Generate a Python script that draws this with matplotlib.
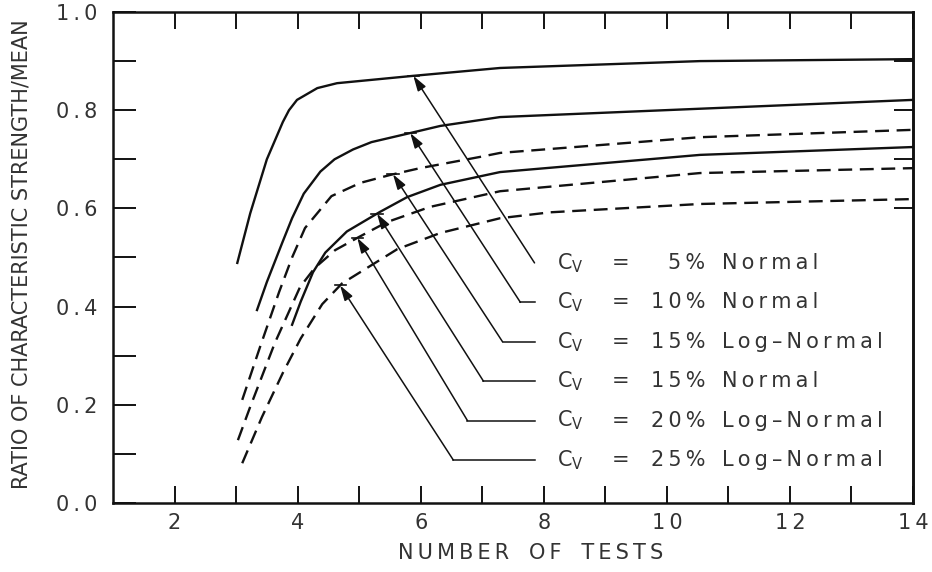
import numpy as np
import matplotlib
matplotlib.use("Agg")
import matplotlib.pyplot as plt

plt.rcParams["font.family"] = ["DejaVu Sans"]
plt.rcParams["mathtext.default"] = "regular"
plt.rcParams["lines.scale_dashes"] = False

# ratio of characteristic strength to mean vs number of tests
n_5n = [3.02, 3.23, 3.50, 3.76, 3.86, 3.99, 4.32, 4.64, 5.88, 7.29, 10.54, 14.0]
r_5n = [0.489, 0.590, 0.700, 0.776, 0.800, 0.821, 0.845, 0.855, 0.870, 0.886, 0.900, 0.904]

n_10n = [3.34, 3.50, 3.75, 3.91, 4.10, 4.37, 4.60, 4.90, 5.20, 5.78, 6.32, 7.29, 10.54, 14.0]
r_10n = [0.393, 0.450, 0.530, 0.580, 0.630, 0.675, 0.700, 0.720, 0.735, 0.752, 0.768, 0.786, 0.803, 0.821]

n_15ln = [3.10, 3.39, 3.70, 3.91, 4.12, 4.55, 5.02, 5.50, 5.99, 6.97, 7.29, 10.54, 14.0]
r_15ln = [0.210, 0.318, 0.430, 0.500, 0.560, 0.625, 0.652, 0.668, 0.682, 0.705, 0.713, 0.745, 0.760]

n_15n = [3.91, 4.05, 4.25, 4.45, 4.80, 5.34, 5.78, 6.32, 7.29, 10.54, 14.0]
r_15n = [0.363, 0.410, 0.470, 0.510, 0.553, 0.593, 0.623, 0.648, 0.674, 0.709, 0.725]

n_20ln = [3.03, 3.23, 3.63, 4.04, 4.28, 4.61, 5.00, 5.45, 6.15, 7.29, 10.54, 14.0]
r_20ln = [0.128, 0.196, 0.326, 0.440, 0.479, 0.515, 0.542, 0.572, 0.603, 0.635, 0.672, 0.682]

n_25ln = [3.10, 3.42, 3.76, 4.05, 4.40, 4.72, 5.26, 5.62, 6.32, 7.29, 8.10, 10.54, 14.0]
r_25ln = [0.081, 0.175, 0.265, 0.335, 0.405, 0.447, 0.489, 0.517, 0.550, 0.580, 0.592, 0.609, 0.619]

cv_pct = ["5%", "10%", "15%", "15%", "20%", "25%"]
dist = ["Normal", "Normal", "Log\u2013Normal", "Normal", "Log\u2013Normal", "Log\u2013Normal"]
dashed = [False, False, True, False, True, True]

# where each leader arrow meets its curve, and where it bends to horizontal
tip_n = [5.88, 5.83, 5.55, 5.29, 4.97, 4.69]
bend_n = [7.85, 7.62, 7.33, 7.02, 6.76, 6.53]

series = [(n_5n, r_5n), (n_10n, r_10n), (n_15ln, r_15ln),
          (n_15n, r_15n), (n_20ln, r_20ln), (n_25ln, r_25ln)]

ink = "#111111"
txt = "#333333"


def spaced(s):
    return "\u2009".join(s)


fig = plt.figure(figsize=(9.32, 5.72), dpi=100)
ax = fig.add_axes([113 / 932, 1 - 503 / 572, 800 / 932, 491 / 572])

for (n, r), dsh in zip(series, dashed):
    if dsh:
        ax.plot(n, r, color=ink, lw=1.7, dashes=(10, 5.5), solid_capstyle="butt")
    else:
        ax.plot(n, r, color=ink, lw=1.7, solid_joinstyle="round")

# leader lines with labels
row0, row_step = 0.489, 0.0803
leader_end = 7.85
cv_x, eq_x, pct_x, name_x = 8.22, 9.24, 10.63, 10.90
for i, ((n, r), tx, bx) in enumerate(zip(series, tip_n, bend_n)):
    ty = float(np.interp(tx, n, r))
    ry = row0 - i * row_step
    ax.plot([bx, leader_end], [ry, ry], color=ink, lw=1.1)
    ax.annotate("", xy=(tx, ty), xytext=(bx, ry),
                arrowprops=dict(arrowstyle="-|>,head_length=0.65,head_width=0.2",
                                mutation_scale=14, color=ink, lw=1.1,
                                shrinkA=0, shrinkB=0))
    ax.plot([tx - 0.09, tx + 0.09], [ty, ty], color=ink, lw=1.2)
    ax.text(cv_x, ry, "C$_V$", fontsize=15, color=txt, va="center", ha="left")
    ax.text(eq_x, ry, "=", fontsize=15, color=txt, va="center", ha="center")
    ax.text(pct_x, ry, spaced(cv_pct[i]), fontsize=15, color=txt, va="center", ha="right")
    ax.text(name_x, ry, spaced(dist[i]), fontsize=15, color=txt, va="center", ha="left")

ax.set_xlim(1, 14)
ax.set_ylim(0, 1.0)

xt = np.arange(2, 15, 2)
ax.set_xticks(xt)
ax.set_xticks(np.arange(3, 14, 2), minor=True)
ax.set_xticklabels([spaced(str(v)) for v in xt])
yt = np.arange(0, 1.01, 0.2)
ax.set_yticks(yt)
ax.set_yticks(np.arange(0.1, 1.0, 0.2), minor=True)
ax.set_yticklabels([spaced(f"{v:.1f}") for v in yt])

ax.tick_params(axis="x", which="both", direction="in", length=12, width=1.3,
               top=True, labelsize=15, labelcolor=txt, pad=7)
ax.tick_params(axis="y", which="both", direction="in", length=16.5, width=1.3,
               right=False, labelsize=15, labelcolor=txt, pad=11)

sec = ax.secondary_yaxis("right")
sec.set_yticks([0.6, 0.7, 0.8, 0.9])
sec.tick_params(direction="in", length=14, width=1.3, labelright=False)
sec.spines["right"].set_linewidth(1.8)

for sp in ax.spines.values():
    sp.set_linewidth(1.8)
    sp.set_color(ink)

fig.text(531 / 932, 1 - 553 / 572, "   ".join(spaced(w) for w in ["NUMBER", "OF", "TESTS"]),
         fontsize=15, color=txt, ha="center", va="center")
fig.text(22 / 932, 1 - 254 / 572, "RATIO OF CHARACTERISTIC STRENGTH/MEAN",
         fontsize=15, color=txt, ha="center", va="center", rotation=90)

fig.savefig("out.png", dpi=100)
